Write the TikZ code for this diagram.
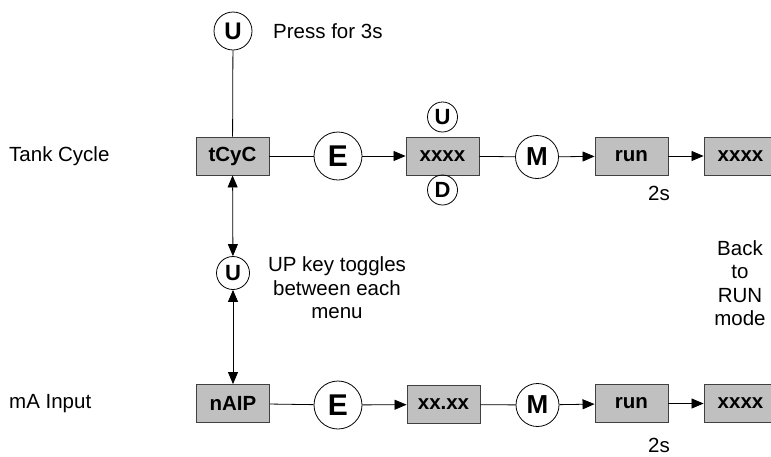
\documentclass[tikz,border=0pt]{standalone}
\usepackage{fontspec}
\setmainfont{Liberation Sans}
\usetikzlibrary{arrows.meta}
\definecolor{boxfill}{RGB}{192,192,192}
\definecolor{boxline}{RGB}{64,64,64}
\tikzset{
  menubox/.style={draw=boxline, fill=boxfill, line width=0.9pt, minimum width=73pt, minimum height=38pt, inner sep=0pt, font=\fontsize{20.5}{22}\selectfont\bfseries},
  keybig/.style={draw, circle, line width=0.8pt, minimum size=48pt, inner sep=0pt, font=\fontsize{30}{32}\selectfont\bfseries},
  keymid/.style={draw, circle, line width=0.8pt, minimum size=43pt, inner sep=0pt, font=\fontsize{26}{28}\selectfont\bfseries},
  keytop/.style={draw, circle, line width=0.8pt, minimum size=38pt, inner sep=0pt, font=\fontsize{24}{26}\selectfont\bfseries},
  keysmall/.style={draw, circle, line width=0.8pt, minimum size=30pt, inner sep=0pt, font=\fontsize{22}{24}\selectfont\bfseries},
  lbl/.style={inner sep=0pt, font=\fontsize{20.5}{23.5}\selectfont},
  conn/.style={line width=0.8pt},
  arr/.style={line width=0.8pt, -{Triangle[length=12pt,width=10pt]}},
  darr/.style={line width=0.8pt, {Triangle[length=12pt,width=10pt]}-{Triangle[length=12pt,width=10pt]}},
}
\begin{document}
\begin{tikzpicture}[x=1pt,y=-1pt]
\clip (0,0) rectangle (771,456);
\fill[white] (0,0) rectangle (771,456);
% labels
\node[lbl, anchor=west] (tank) at (9,156) {Tank Cycle};
\node[lbl, anchor=west] (ma) at (9,404) {mA Input};
\node[lbl, anchor=west] (press) at (273,31) {Press for 3s};
\node[lbl, align=center] (toggle) at (337,288) {UP key toggles\\between each\\menu};
\node[lbl, align=center] (back) at (740,283) {Back\\to\\RUN\\mode};
\node[lbl] (t1) at (659,193) {2s};
\node[lbl] (t2) at (659,445) {2s};
% top row
\node[keytop] (utop) at (233,31) {U};
\node[menubox] (tcyc) at (232.5,156) {tCyC};
\node[keybig] (e1) at (338,156) {E};
\node[menubox] (x1) at (442.5,156) {xxxx};
\node[keysmall] (u1) at (442.5,117) {U};
\node[keysmall] (d1) at (442.5,190) {D};
\node[keymid] (m1) at (537,157) {M};
\node[menubox] (r1) at (631.5,156) {run};
\node[menubox] (y1) at (740.5,156) {xxxx};
% middle
\node[keysmall, minimum size=33pt] (umid) at (233,273) {U};
% bottom row
\node[menubox] (naip) at (233,403.5) {nAIP};
\node[keybig] (e2) at (338,405) {E};
\node[menubox] (x2) at (443.5,404.5) {xx.xx};
\node[keymid] (m2) at (537.5,405) {M};
\node[menubox] (r2) at (631.5,403.5) {run};
\node[menubox] (y2) at (740.5,403.5) {xxxx};
% connectors
\draw[conn] (utop) -- (tcyc);
\draw[conn] (tcyc) -- (e1);
\draw[arr] (e1) -- (x1);
\draw[conn] (x1) -- (m1);
\draw[arr] (m1) -- (r1);
\draw[arr] (r1) -- (y1);
\draw[darr] (tcyc) -- (umid);
\draw[darr] (umid) -- (naip);
\draw[conn] (naip) -- (e2);
\draw[arr] (e2) -- (x2);
\draw[conn] (x2) -- (m2);
\draw[arr] (m2) -- (r2);
\draw[arr] (r2) -- (y2);
\end{tikzpicture}
\end{document}
